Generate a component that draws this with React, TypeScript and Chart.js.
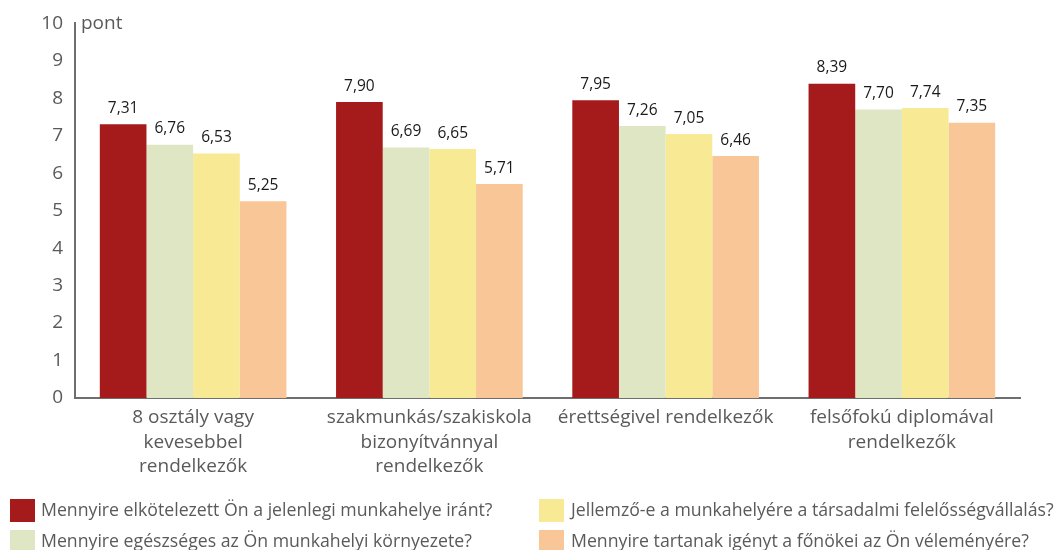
import React, { useEffect, useRef } from "react";
import { Chart, registerables } from "chart.js";

Chart.register(...registerables);

const categories: string[][] = [
  ["8 osztály vagy", "kevesebbel", "rendelkezők"],
  ["szakmunkás/szakiskola", "bizonyítvánnyal", "rendelkezők"],
  ["érettségivel rendelkezők"],
  ["felsőfokú diplomával", "rendelkezők"],
];

const seriesNames = [
  "Mennyire elkötelezett Ön a jelenlegi munkahelye iránt?",
  "Mennyire egészséges az Ön munkahelyi környezete?",
  "Jellemző-e a munkahelyére a társadalmi felelősségvállalás?",
  "Mennyire tartanak igényt a főnökei az Ön véleményére?",
];

const committed = [7.31, 7.9, 7.95, 8.39];
const healthy = [6.76, 6.69, 7.26, 7.7];
const responsibility = [6.53, 6.65, 7.05, 7.74];
const opinion = [5.25, 5.71, 6.46, 7.35];

const colors = ["#A51A1A", "#DFE6C4", "#F8E994", "#F8C697"];
const yTicks = [0, 1, 2, 3, 4, 5, 6, 7, 8, 9, 10];

const FONT = "'Open Sans', sans-serif";
const GREY = "#5a5a5a";

const labelPlugin = {
  id: "labels",
  afterDatasetsDraw(chart: any) {
    const ctx = chart.ctx;
    ctx.save();
    ctx.font = `15.5px ${FONT}`;
    ctx.fillStyle = "#1a1a1a";
    ctx.textAlign = "center";
    ctx.textBaseline = "bottom";
    chart.data.datasets.forEach((ds: any, i: number) => {
      const meta = chart.getDatasetMeta(i);
      meta.data.forEach((bar: any, j: number) => {
        const v = ds.data[j] as number;
        ctx.fillText(v.toFixed(2).replace(".", ","), bar.x, bar.y - 8);
      });
    });
    // unit label
    ctx.font = `19px ${FONT}`;
    ctx.fillStyle = GREY;
    ctx.textAlign = "left";
    ctx.textBaseline = "middle";
    ctx.fillText("pont", chart.chartArea.left + 6, chart.chartArea.top);
    // legend
    const cols = [
      { sx: 10, tx: 41 },
      { sx: 539, tx: 571 },
    ];
    const rows = [511, 542];
    ctx.font = `17.7px ${FONT}`;
    chart.data.datasets.forEach((ds: any, i: number) => {
      const c = cols[Math.floor(i / 2)];
      const r = rows[i % 2];
      ctx.fillStyle = ds.backgroundColor;
      ctx.fillRect(c.sx, r - 12, 25, 23);
      ctx.fillStyle = GREY;
      ctx.fillText(ds.label, c.tx, r);
    });
    ctx.restore();
  },
};

export default function App() {
  const ref = useRef<HTMLCanvasElement>(null);
  useEffect(() => {
    const values = [committed, healthy, responsibility, opinion];
    const chart = new Chart(ref.current!, {
      type: "bar",
      data: {
        labels: categories as any,
        datasets: values.map((d, i) => ({
          label: seriesNames[i],
          data: d,
          backgroundColor: colors[i],
          borderWidth: 0,
          categoryPercentage: 0.79,
          barPercentage: 1,
        })),
      },
      options: {
        animation: false,
        responsive: false,
        devicePixelRatio: 1,
        layout: { padding: { top: 22, right: 38, left: 0, bottom: 0 } },
        plugins: { legend: { display: false }, tooltip: { enabled: false } },
        scales: {
          x: {
            grid: { display: false, drawTicks: false },
            border: { display: true, color: "#6e6e6e", width: 2 },
            ticks: {
              color: GREY,
              font: { family: FONT, size: 19, lineHeight: 1.27 },
              padding: 8,
              maxRotation: 0,
            },
            afterFit: (s: any) => {
              s.height = 152;
            },
          },
          y: {
            min: 0,
            max: 10,
            afterBuildTicks: (s: any) => {
              s.ticks = yTicks.map((v) => ({ value: v }));
            },
            grid: { display: false, drawTicks: false },
            border: { display: true, color: "#6e6e6e", width: 2 },
            ticks: { color: GREY, font: { family: FONT, size: 19 }, padding: 12 },
            afterFit: (s: any) => {
              s.width = 75;
            },
          },
        },
      },
      plugins: [labelPlugin],
    });
    return () => chart.destroy();
  }, []);
  return (
    <div style={{ position: "fixed", left: 0, top: 0, width: 1058, height: 550, background: "#fff" }}>
      <canvas ref={ref} width={1058} height={550} style={{ width: 1058, height: 550 }} />
    </div>
  );
}
